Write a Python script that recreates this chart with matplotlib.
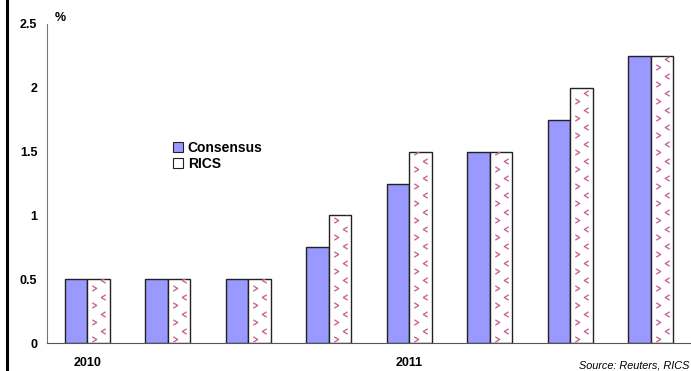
import numpy as np
import matplotlib.pyplot as plt
from matplotlib.lines import Line2D
from matplotlib.patches import Patch
from matplotlib.path import Path

plt.rcParams['font.family'] = ['Liberation Sans', 'DejaVu Sans']

# quarterly rate expectations, %
periods = ['2010', '', '', '', '2011', '', '', '']
consensus = [0.5, 0.5, 0.5, 0.75, 1.25, 1.5, 1.75, 2.25]
rics = [0.5, 0.5, 0.5, 1.0, 1.5, 1.5, 2.0, 2.25]
yticks = [0, 0.5, 1, 1.5, 2, 2.5]

blue = '#9999ff'
pink = '#c8679a'

fig = plt.figure(figsize=(6.91, 3.71), dpi=100)
ax = fig.add_axes([47 / 691, 28 / 371, 1 - 47 / 691, 319 / 371])

x = np.arange(len(consensus))
w = 0.28
ax.bar(x - w / 2, consensus, w, color=blue, edgecolor='#222222', linewidth=1, zorder=2)
rbars = ax.bar(x + w / 2, rics, w, color='white', edgecolor='#222222', linewidth=1, zorder=2)

# zig-zag chevron texture inside the RICS bars
right_chev = Path([(-0.5, 0.6), (0.5, 0.0), (-0.5, -0.6)])
left_chev = Path([(0.5, 0.6), (-0.5, 0.0), (0.5, -0.6)])
px_x = w / 22.5          # one pixel in data x
px_y = 2.5 / 319         # one pixel in data y
for b in rbars:
    x0, h = b.get_x(), b.get_height()
    ys = np.arange(4 * px_y, h + 4 * px_y, 8.5 * px_y)
    for k, yy in enumerate(ys):
        if k % 2 == 0:
            offs, mk = (7, 27), right_chev
        else:
            offs, mk = (16, -4), left_chev
        ln, = ax.plot([x0 + o * px_x for o in offs], [yy, yy], linestyle='none',
                      marker=mk, markersize=3.8, markerfacecolor='none',
                      markeredgecolor=pink, markeredgewidth=1.0, zorder=3)
        ln.set_clip_path(b)

ax.set_xlim(-0.5, len(consensus) - 0.5)
ax.set_ylim(0, 2.5)
ax.set_yticks(yticks)
ax.set_yticklabels([f'{v:g}' for v in yticks], fontsize=9, fontweight='bold')
ax.tick_params(axis='y', length=0, pad=7)
ax.set_xticks(x)
ax.set_xticklabels(periods, fontsize=9, fontweight='bold')
ax.tick_params(axis='x', length=0, pad=10)

for s in ('top', 'right'):
    ax.spines[s].set_visible(False)
ax.spines['left'].set_color('#777777')
ax.spines['bottom'].set_color('#555555')

ax.text(60 / 691, 1 - 18 / 371, '%', transform=fig.transFigure, fontsize=9,
        fontweight='bold', ha='center', va='center')

handles = [Patch(facecolor=blue, edgecolor='#222222', linewidth=0.8),
           Patch(facecolor='white', edgecolor='#222222', linewidth=0.8)]
leg = fig.legend(handles, ['Consensus', 'RICS'], loc='upper left',
                 bbox_to_anchor=(173 / 691, 1 - 141 / 371), frameon=False,
                 prop={'size': 10, 'weight': 'bold'}, handlelength=0.72,
                 handleheight=0.72, handletextpad=0.35, labelspacing=0.15,
                 borderpad=0, borderaxespad=0)

fig.text(689 / 691, 1 - 366 / 371, 'Source: Reuters, RICS', fontsize=7.8,
         style='italic', ha='right', va='center')

# thick frame line on the left edge
fig.add_artist(Line2D([6.5 / 691, 6.5 / 691], [0, 1], transform=fig.transFigure,
                      color='black', linewidth=2.2))

fig.savefig('out.png', dpi=100)
